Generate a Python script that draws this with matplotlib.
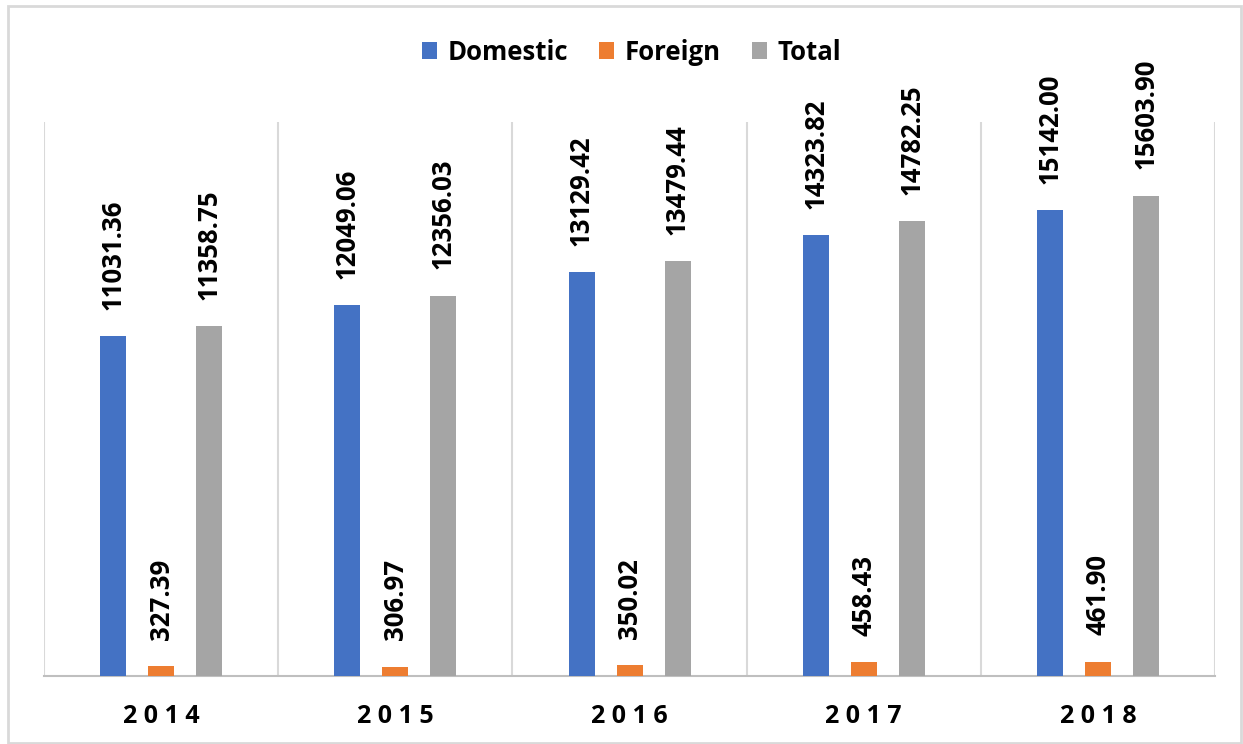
import matplotlib.pyplot as plt
import numpy as np
from matplotlib.patches import Rectangle

years = ["2014", "2015", "2016", "2017", "2018"]
domestic = [11031.36, 12049.06, 13129.42, 14323.82, 15142.00]
foreign = [327.39, 306.97, 350.02, 458.43, 461.90]
total = [11358.75, 12356.03, 13479.44, 14782.25, 15603.90]

series = [("Domestic", domestic, "#4472C4"),
          ("Foreign", foreign, "#ED7D31"),
          ("Total", total, "#A5A5A5")]

plt.rcParams['font.family'] = ['Open Sans', 'DejaVu Sans']

fig = plt.figure(figsize=(12.43, 7.44), dpi=100)
ax = fig.add_axes([0.0354, 0.0914, 0.9421, 0.7446])

x = np.arange(len(years))
width = 0.111
step = 0.205

for i, (name, vals, col) in enumerate(series):
    pos = x + (i - 1) * step
    ax.bar(pos, vals, width, color=col, label=name, zorder=3)
    for xp, v in zip(pos, vals):
        ax.annotate(f"{v:.2f}", (xp, v), xytext=(0, 19), textcoords="offset points",
                    rotation=90, ha="center", va="bottom", fontsize=18.5,
                    fontweight="bold", color="black")

ax.set_xlim(-0.5, len(years) - 0.5)
ax.set_ylim(0, 18000)
ax.set_yticks([])
ax.set_xticks(x)
ax.set_xticklabels([" ".join(y) for y in years], fontsize=18, fontweight="bold")
ax.tick_params(axis="x", length=0, pad=20)

# category separators
for b in np.arange(-0.5, len(years), 1.0):
    ax.axvline(b, color="#D9D9D9", lw=1.5, zorder=1)

for s in ["top", "left", "right"]:
    ax.spines[s].set_visible(False)
ax.spines["bottom"].set_color("#BFBFBF")
ax.spines["bottom"].set_linewidth(1.5)

fig.legend(loc="center", bbox_to_anchor=(0.508, 0.93), ncol=3, frameon=False,
           prop={"size": 18.5, "weight": "bold"}, handlelength=0.6,
           handleheight=0.6, handletextpad=0.4, columnspacing=1.2)

fig.patches.append(Rectangle((0.0065, 0.002), 0.992, 0.99, transform=fig.transFigure,
                             fill=False, edgecolor="#D9D9D9", lw=2))

fig.savefig("out.png", dpi=100)
